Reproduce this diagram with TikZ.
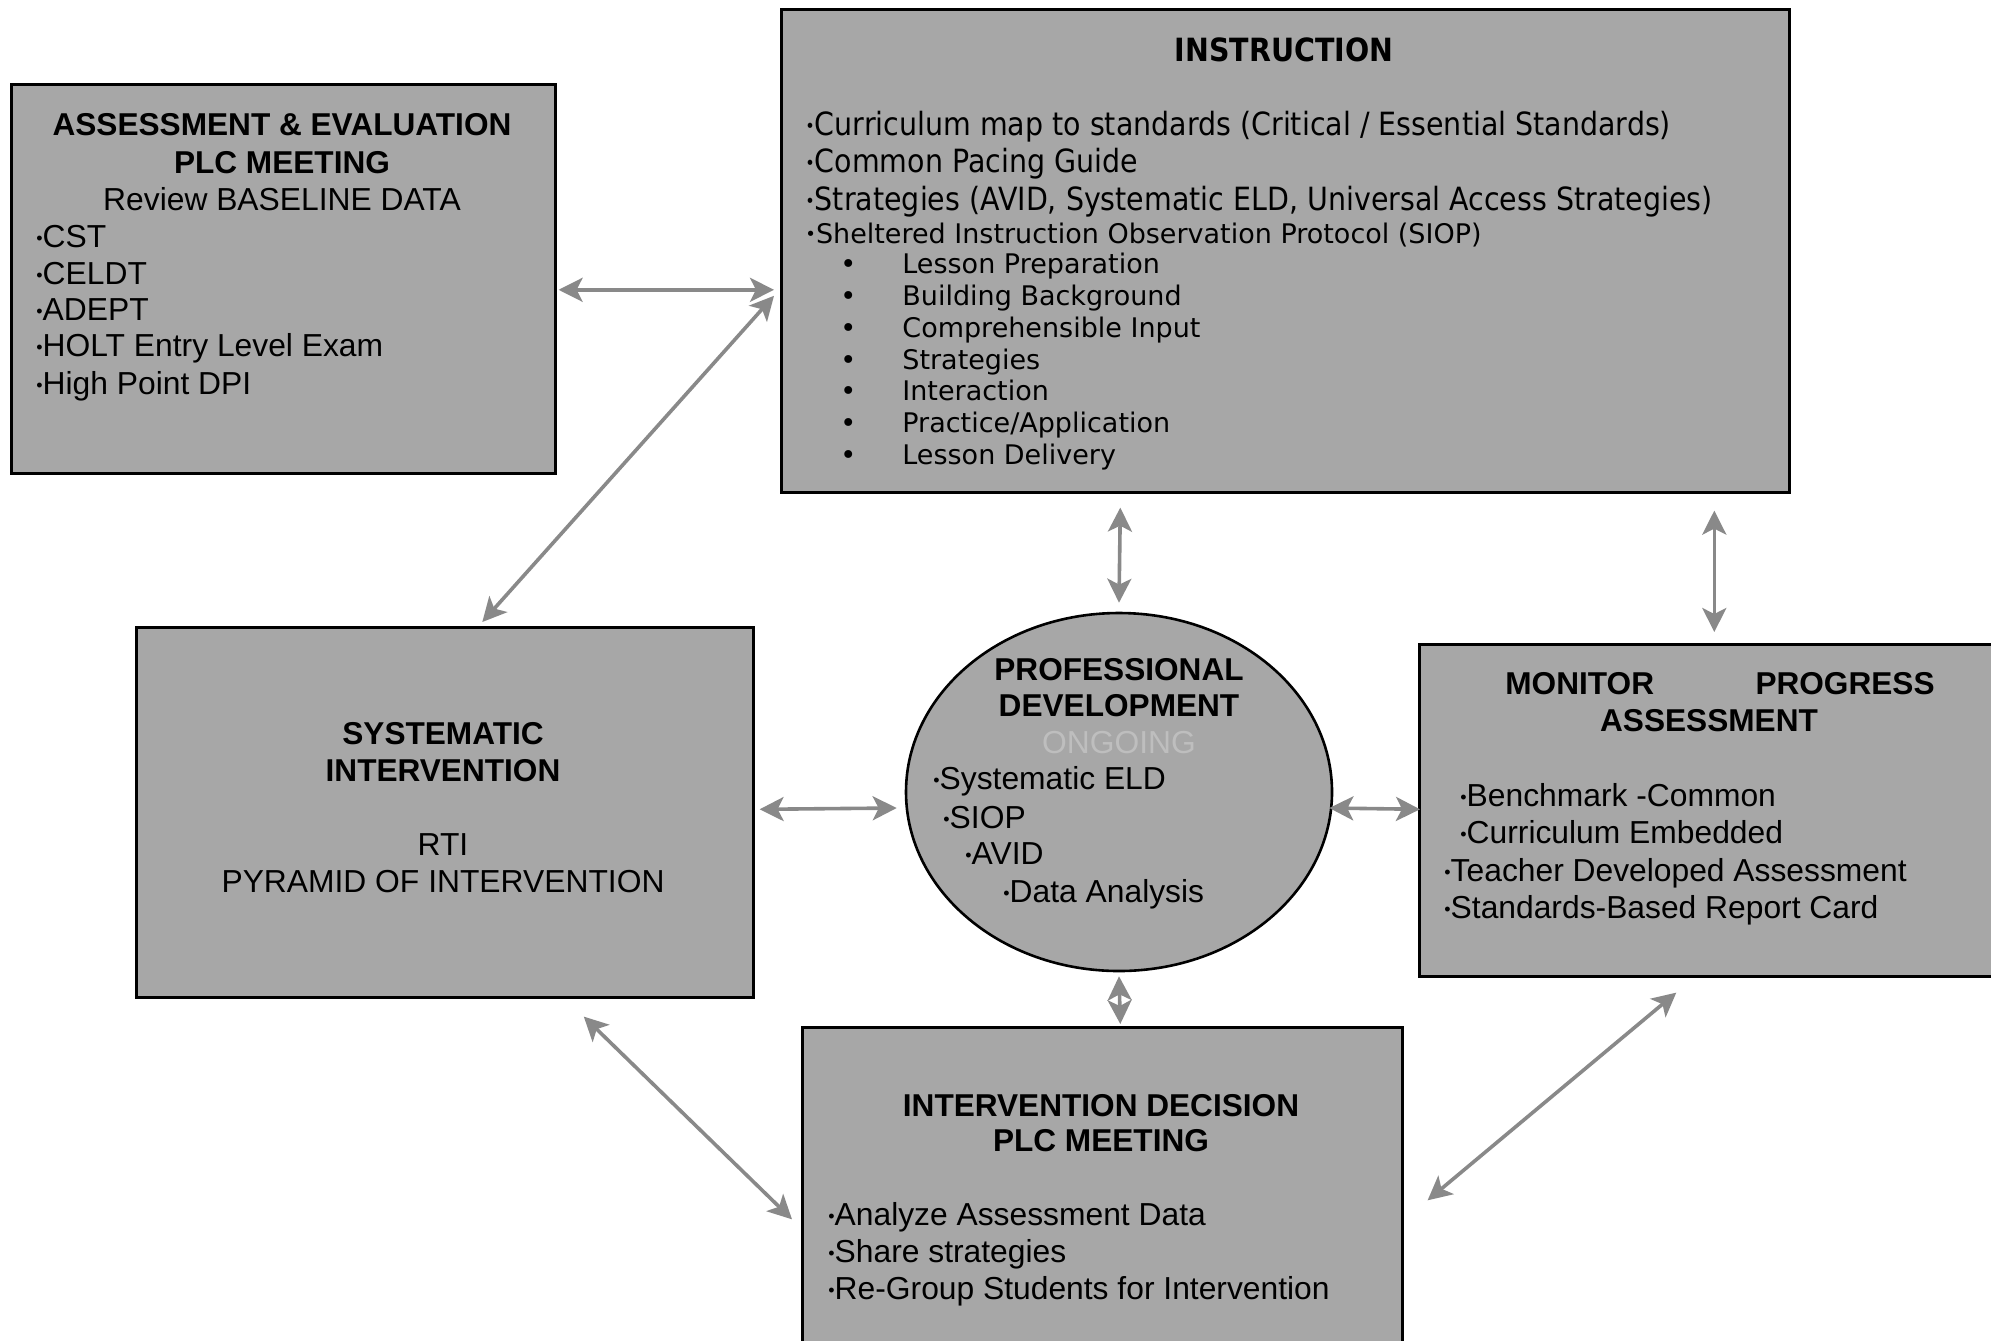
\documentclass[tikz,border=0pt]{standalone}
\usepackage{fontspec}
\setmainfont{Liberation Sans}
\newfontfamily\instrfont[FakeStretch=0.89]{DejaVu Sans}
\newfontfamily\siopfont{DejaVu Sans}
\usetikzlibrary{arrows.meta,shapes.geometric}
\definecolor{boxgray}{HTML}{A7A7A7}
\definecolor{arrgray}{HTML}{898989}
\definecolor{onggray}{HTML}{BEBEBE}
\newcommand{\bt}{{\fontsize{9}{9}\selectfont\raisebox{0.25ex}{•}}}
\begin{document}
\begin{tikzpicture}[x=0.5pt,y=-0.5pt,
  panel/.style={draw=black, line width=1.3pt, fill=boxgray, rectangle, inner sep=0pt, anchor=north west},
  body/.style={font=\fontsize{15.9}{18}\selectfont, inner sep=0pt, anchor=base west},
  head/.style={font=\fontsize{15.8}{18}\selectfont\bfseries, inner sep=0pt, anchor=base},
  ibody/.style={font=\instrfont\fontsize{16}{18}\selectfont, inner sep=0pt, anchor=base west},
  sbody/.style={font=\siopfont\fontsize{13.5}{15}\selectfont, inner sep=0pt, anchor=base west},
  arr/.style={draw=arrgray, line width=1.8pt, {Stealth[length=12pt,width=12pt,inset=3pt]}-{Stealth[length=12pt,width=12pt,inset=3pt]}}
]
\clip (0,0) rectangle (1991,1340);
\fill[white] (0,0) rectangle (1991,1340);

% panels
\node[panel, minimum width=272pt, minimum height=194.5pt] (A) at (10,83) {};
\node[panel, minimum width=504pt, minimum height=241.5pt] (I) at (780,8) {};
\node[panel, minimum width=308.5pt, minimum height=185pt] (S) at (135,626) {};
\node[panel, minimum width=293.5pt, minimum height=166pt] (M) at (1418,643) {};
\node[panel, minimum width=300pt, minimum height=164.5pt] (D) at (801,1026) {};
\node[draw=black, line width=1.3pt, fill=boxgray, ellipse, inner sep=0pt, minimum width=213pt, minimum height=179pt] (P) at (1119,792) {};

% Assessment box text
\node[head] (a1) at (282,135) {ASSESSMENT \& EVALUATION};
\node[head] (a2) at (282,173) {PLC MEETING};
\node[body, anchor=base] (a3) at (282,210) {Review BASELINE DATA};
\node[body] (a4) at (36,247) {\bt CST};
\node[body] (a5) at (36,284) {\bt CELDT};
\node[body] (a6) at (36,320) {\bt ADEPT};
\node[body] (a7) at (36,356) {\bt HOLT Entry Level Exam};
\node[body] (a8) at (36,394) {\bt High Point DPI};

% Instruction box text
\node[ibody, font=\instrfont\fontsize{16}{18}\selectfont\bfseries, anchor=base] (i0) at (1284,61) {INSTRUCTION};
\node[ibody] (i1) at (805,135) {\bt Curriculum map to standards (Critical / Essential Standards)};
\node[ibody] (i2) at (805,172) {\bt Common Pacing Guide};
\node[ibody] (i3) at (805,210) {\bt Strategies (AVID, Systematic ELD, Universal Access Strategies)};
\node[sbody] (i4) at (805,243) {\bt Sheltered Instruction Observation Protocol (SIOP)};
\foreach \t/\yy [count=\k] in {{Lesson Preparation}/273, {Building Background}/305, {Comprehensible Input}/337, {Strategies}/369, {Interaction}/400, {Practice/Application}/432, {Lesson Delivery}/464}{
  \node[sbody] (ib\k) at (840,\yy) {•};
  \node[sbody] (it\k) at (902,\yy) {\t};
}

% Systematic intervention
\node[head] (s1) at (443,744) {SYSTEMATIC};
\node[head] (s2) at (443,781) {INTERVENTION};
\node[body, anchor=base] (s3) at (443,855) {RTI};
\node[body, anchor=base] (s4) at (443,892) {PYRAMID OF INTERVENTION};

% Professional development
\node[head] (p1) at (1119,680) {PROFESSIONAL};
\node[head] (p2) at (1119,716) {DEVELOPMENT};
\node[body, anchor=base, text=onggray] (p3) at (1119,753) {ONGOING};
\node[body] (p4) at (933,789) {\bt Systematic ELD};
\node[body] (p5) at (943,828) {\bt SIOP};
\node[body] (p6) at (965,864) {\bt AVID};
\node[body] (p7) at (1003,902) {\bt Data Analysis};

% Monitor progress
\node[head, anchor=base west] (m1) at (1505,694) {MONITOR};
\node[head, anchor=base east] (m1b) at (1935,694) {PROGRESS};
\node[head] (m2) at (1709,731) {ASSESSMENT};
\node[body] (m3) at (1460,806) {\bt Benchmark -Common};
\node[body] (m4) at (1460,843) {\bt Curriculum Embedded};
\node[body] (m5) at (1444,881) {\bt Teacher Developed Assessment};
\node[body] (m6) at (1444,918) {\bt Standards-Based Report Card};

% Intervention decision
\node[head] (d1) at (1101,1116) {INTERVENTION DECISION};
\node[head] (d2) at (1101,1151) {PLC MEETING};
\node[body] (d3) at (828,1225) {\bt Analyze Assessment Data};
\node[body] (d4) at (828,1262) {\bt Share strategies};
\node[body] (d5) at (828,1299) {\bt Re-Group Students for Intervention};

% connectors
\draw[arr] ([shift={(2,11)}]A.east) -- ([shift={(-6,39)}]I.west);
\draw[arr] ([shift={(-6,45)}]I.west) -- ([shift={(37.5,-4)}]S.north);
\draw[arr] ([shift={(-165,14)}]I.south) -- ([shift={(0,-9)}]P.north);
\draw[arr] ([shift={(429,17)}]I.south) -- ([shift={(1.5,-11)}]M.north);
\draw[arr] ([shift={(5,-3)}]S.east) -- ([shift={(-8,16)}]P.west);
\draw[arr] ([shift={(-4,16)}]P.east) -- ([shift={(2,-1)}]M.west);
\draw[arr] ([shift={(0,4)}]P.south) -- ([shift={(18,-2)}]D.north);
\draw[arr] ([shift={(139,18)}]S.south) -- ([shift={(-9,27.5)}]D.west);
\draw[arr] ([shift={(-36.5,15)}]M.south) -- ([shift={(24,8.5)}]D.east);
\end{tikzpicture}
\end{document}
